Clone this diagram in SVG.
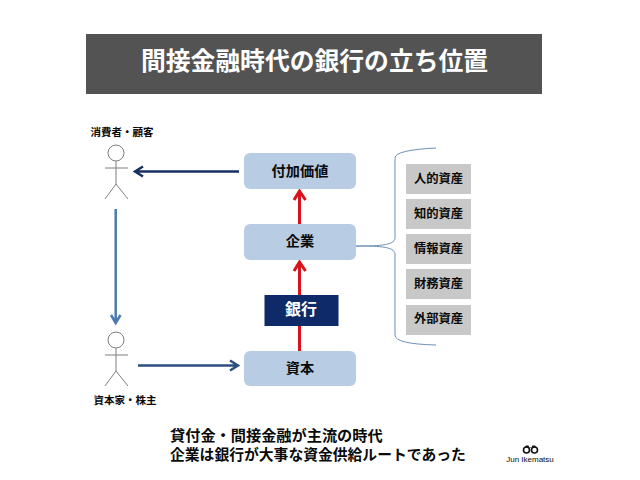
<svg xmlns="http://www.w3.org/2000/svg" width="640" height="480" viewBox="0 0 640 480">
<style>
text{font-family:"Noto Sans CJK JP","Liberation Sans",sans-serif;font-weight:700;fill:#0a0a0a;text-anchor:middle}
.b{fill:#b8cce4}
.g{fill:#c8c8c8}
.gt{font-size:12.3px}
.bt{font-size:14.2px}
.lb{font-size:10.500px}
.fig{fill:none;stroke:#7f7f7f;stroke-width:1}
.red{fill:none;stroke:#d9121c;stroke-width:3}
</style>
<rect width="640" height="480" fill="#fff"/>
<g id="title"><rect x="86" y="34" width="456" height="60" fill="#535353"/><text x="314.500" y="70" font-size="24.800" style="fill:#fff">間接金融時代の銀行の立ち位置</text></g>
<g id="connectors">
<path class="red" d="M299.500 224V191M294 200L299.500 191L305.500 200"/>
<path class="red" d="M299.500 351V262M294 271L299.500 262L305.500 271"/>
<path d="M239 171.500H136M143 166.500L135 171.500L143 176.500" fill="none" stroke="#17305f" stroke-width="2.500"/>
<path d="M115.700 209V322M111 315L115.700 323L120.500 315" fill="none" stroke="#4a7ab0" stroke-width="2.500"/>
<path d="M138 365.500H237M230 360.500L238 365.500L230 370.500" fill="none" stroke="#2c4f80" stroke-width="2.500"/>
<path d="M356 246C375 246 395 246 395 238V158Q395 150 436 148M356 246C375 246 395 246 395 254V335Q395 344 436 345" fill="none" stroke="#6d90b8" stroke-width="1"/>
</g>
<g id="consumer"><circle class="fig" cx="116" cy="153" r="8"/><path class="fig" d="M116 161V184M105 168H128M116 184L105 199M116 184L128 199"/><text class="lb" x="122" y="136">消費者・顧客</text></g>
<g id="investor"><circle class="fig" cx="116" cy="340" r="8"/><path class="fig" d="M116 348V371M105 355H128M116 371L105 386M116 371L128 386"/><text class="lb" x="125" y="404">資本家・株主</text></g>
<g id="value"><rect class="b" x="244" y="153" width="112" height="36" rx="6"/><text class="bt" x="300" y="175.500">付加価値</text></g>
<g id="company"><rect class="b" x="244" y="224" width="112" height="36" rx="6"/><text class="bt" x="300" y="245.500">企業</text></g>
<g id="bank"><rect x="264.500" y="295" width="74" height="31" fill="#0f2a68"/><text x="301" y="314.500" font-size="16" style="fill:#fff">銀行</text></g>
<g id="capital"><rect class="b" x="244" y="351" width="112" height="35" rx="6"/><text class="bt" x="300" y="372.500">資本</text></g>
<g id="a1"><rect class="g" x="406" y="164" width="65" height="30"/><text class="gt" x="438.500" y="182.500">人的資産</text></g>
<g id="a2"><rect class="g" x="406" y="199" width="65" height="30"/><text class="gt" x="438.500" y="217.500">知的資産</text></g>
<g id="a3"><rect class="g" x="406" y="234" width="65" height="30"/><text class="gt" x="438.500" y="252.500">情報資産</text></g>
<g id="a4"><rect class="g" x="406" y="269" width="65" height="30"/><text class="gt" x="438.500" y="287.500">財務資産</text></g>
<g id="a5"><rect class="g" x="406" y="305" width="65" height="30"/><text class="gt" x="438.500" y="322.500">外部資産</text></g>
<g id="caption"><text style="text-anchor:start"><tspan x="170" y="441" font-size="15.200">貸付金・間接金融が主流の時代</tspan><tspan x="170" y="460" font-size="14.800">企業は銀行が大事な資金供給ルートであった</tspan></text></g>
<g id="logo"><circle cx="526.500" cy="450" r="3" fill="none" stroke="#111" stroke-width="1.600"/><circle cx="534.500" cy="450" r="3" fill="none" stroke="#111" stroke-width="1.600"/><path d="M524.500 447.500L526 445.500H528.500L529.500 448H531.500L532.500 445.500H535L536.500 447.500Z" fill="#111"/><text x="530" y="461.500" font-size="8" style="font-family:'Liberation Sans',sans-serif;font-weight:400">Jun Ikematsu</text></g>
</svg>
